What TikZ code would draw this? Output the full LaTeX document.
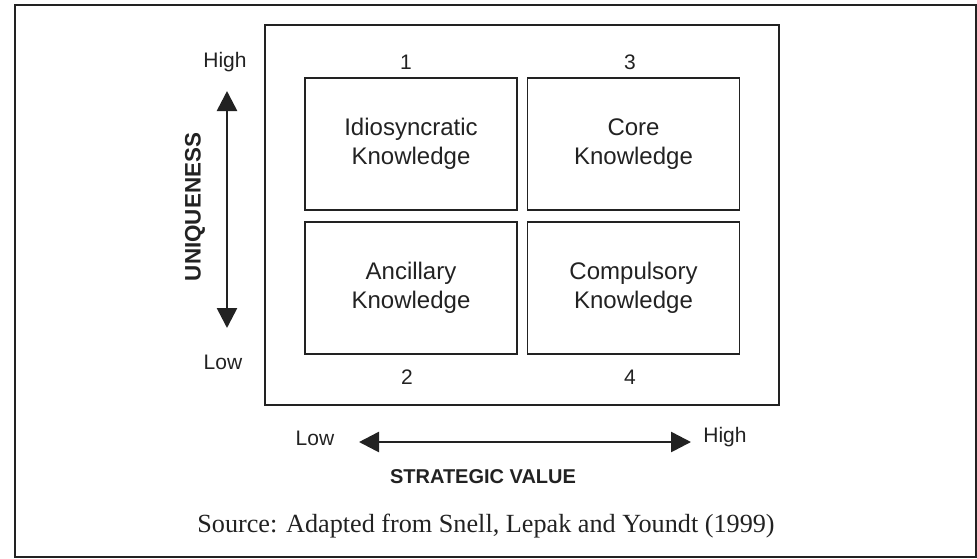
\documentclass[tikz,border=0pt]{standalone}
\usepackage{fontspec}
\setmainfont{Liberation Serif}
\setsansfont{Liberation Sans}
\usetikzlibrary{arrows.meta, positioning}
\definecolor{inkgray}{HTML}{222222}
\tikzset{
    % quadrant boxes of the matrix
    quadrant/.style={
        rectangle,
        draw=inkgray,
        line width=0.6pt,
        minimum width=106pt,
        minimum height=66pt,
        inner sep=0pt,
        align=center,
        text=inkgray,
        font=\sffamily\fontsize{12}{14.5}\selectfont
    },
    scale label/.style={
        inner sep=0pt,
        text=inkgray,
        font=\sffamily\fontsize{10.5}{12}\selectfont
    },
    axis title/.style={
        inner sep=0pt,
        text=inkgray,
        font=\sffamily\bfseries\fontsize{10}{12}\selectfont
    },
    axis arrow/.style={
        {Triangle[length=10pt,width=10pt]}-{Triangle[length=10pt,width=10pt]},
        line width=1.3pt,
        inkgray
    }
}
\begin{document}
\begin{tikzpicture}[x=0.5pt, y=-0.5pt]
        \useasboundingbox (0,0) rectangle (977,558);
        % Outer frame
        \node[draw=inkgray, line width=1pt, minimum width=480.5pt, minimum height=276pt, inner sep=0pt] (frame) at (495.5,281) {};

        % Matrix box
        \node[draw=inkgray, line width=0.75pt, minimum width=257pt, minimum height=190pt, inner sep=0pt] (grid) at (522,215) {};

        % Quadrants
        \node[quadrant] (idio) at (411,144) {Idiosyncratic\\Knowledge};
        \node[quadrant] (core) at (633.5,144) {Core\\Knowledge};
        \node[quadrant] (ancil) at (411,288) {Ancillary\\Knowledge};
        \node[quadrant] (compul) at (633.5,288) {Compulsory\\Knowledge};

        % Quadrant numbers
        \node[scale label] (num1) at (406,62) {1};
        \node[scale label] (num3) at (630,62) {3};
        \node[scale label] (num2) at (407,377) {2};
        \node[scale label] (num4) at (630,377) {4};

        % Uniqueness axis
        \node[scale label] (uhigh) at (225,62) {High};
        \node[scale label] (ulow) at (223,362) {Low};
        \coordinate (utop) at (227,91);
        \coordinate (ubot) at (227,328);
        \draw[axis arrow] (ubot) -- (utop);
        \node[axis title, rotate=90, font=\sffamily\bfseries\fontsize{11.2}{13}\selectfont] (uniq) at (195,207) {UNIQUENESS};

        % Strategic value axis
        \node[scale label] (slow) at (315,438) {Low};
        \node[scale label] (shigh) at (725,437) {High};
        \coordinate (sleft) at (359,442);
        \coordinate (sright) at (691,442);
        \draw[axis arrow] (sleft) -- (sright);
        \node[axis title] (strat) at (483,477) {STRATEGIC VALUE};

        % Source line
        \node[inner sep=0pt, anchor=base, text=inkgray, font=\rmfamily\fontsize{13.1}{15}\selectfont] (source) at (486,532) {Source: Adapted from Snell, Lepak and Youndt (1999)};
    \end{tikzpicture}
\end{document}
